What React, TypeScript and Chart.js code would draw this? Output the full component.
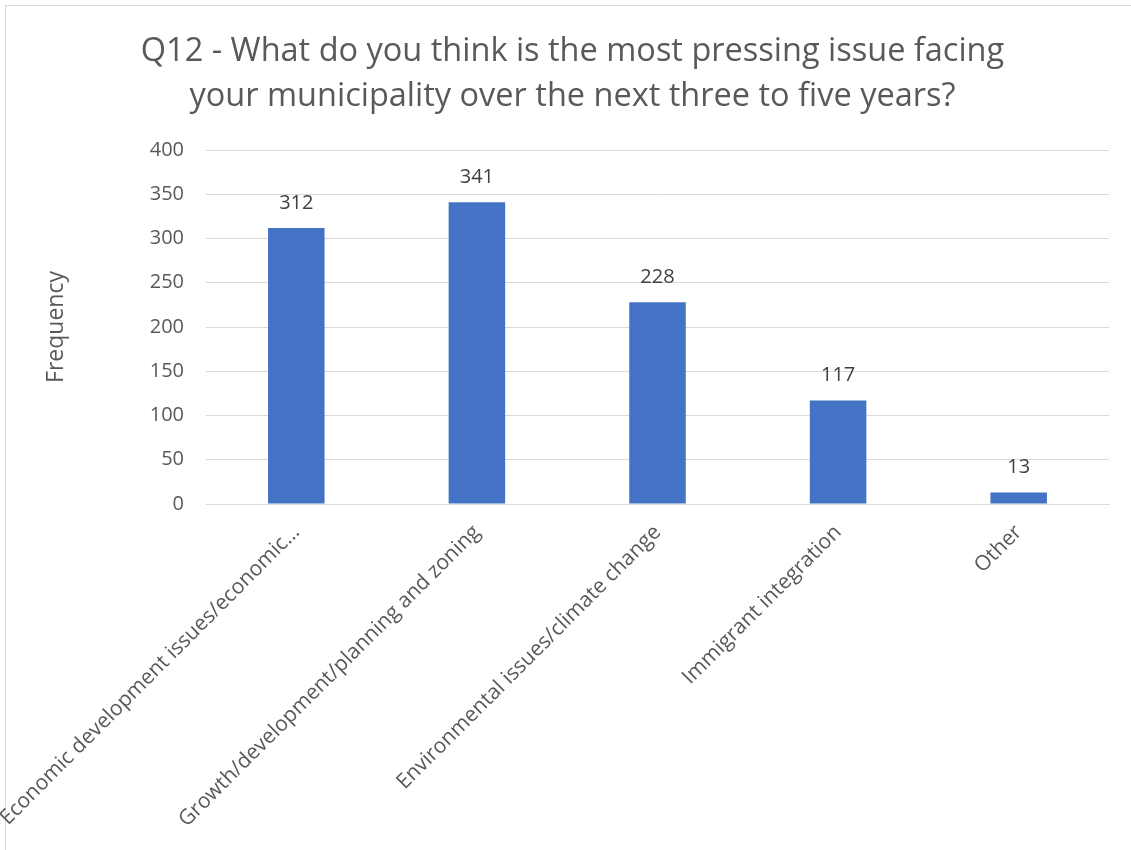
import React, { useEffect, useRef } from "react";
import { Chart, registerables } from "chart.js";

Chart.register(...registerables);

const titleLines = [
  "Q12 - What do you think is the most pressing issue facing",
  "your municipality over the next three to five years?",
];
const categories = [
  "Economic development issues/economic\u2026",
  "Growth/development/planning and zoning",
  "Environmental issues/climate change",
  "Immigrant integration",
  "Other",
];
const frequencies = [312, 341, 228, 117, 13];
const yAxisTitle = "Frequency";
const yMin = 0;
const yMax = 400;
const yStep = 50;

const FONT = "'Open Sans', sans-serif";

const valueLabels = {
  id: "valueLabels",
  afterDatasetsDraw(chart: any) {
    const ctx = chart.ctx;
    const meta = chart.getDatasetMeta(0);
    ctx.save();
    ctx.font = `20px ${FONT}`;
    ctx.fillStyle = "#404040";
    ctx.textAlign = "center";
    ctx.textBaseline = "middle";
    meta.data.forEach((bar: any, i: number) => {
      ctx.fillText(String(chart.data.datasets[0].data[i]), bar.x, bar.y - 25);
    });
    ctx.restore();
  },
};

export default function App() {
  const ref = useRef<HTMLCanvasElement>(null);
  useEffect(() => {
    if (!ref.current) return;
    const chart = new Chart(ref.current, {
      type: "bar",
      data: {
        labels: categories,
        datasets: [
          {
            label: "Frequency",
            data: frequencies,
            backgroundColor: "#4472C4",
            borderWidth: 0,
            barPercentage: 0.313,
            categoryPercentage: 1,
          },
        ],
      },
      options: {
        responsive: false,
        animation: false,
        layout: { padding: { left: 36, right: 22, top: 0, bottom: 0 } },
        plugins: {
          legend: { display: false },
          tooltip: { enabled: false },
          title: {
            display: true,
            text: titleLines,
            color: "#595959",
            font: { family: FONT, size: 32.5, weight: "normal", lineHeight: 45 / 32.5 },
            padding: { top: 29.5, bottom: 30.5 },
          },
        },
        scales: {
          x: {
            grid: { display: false, drawTicks: false },
            border: { display: true, color: "#d9d9d9", width: 1 },
            ticks: {
              autoSkip: false,
              maxRotation: 45,
              minRotation: 45,
              padding: 16,
              color: "#595959",
              font: { family: FONT, size: 21 },
            },
            afterFit(scale: any) {
              scale.height = 346;
              scale.paddingLeft = 0;
              scale.paddingRight = 0;
            },
          },
          y: {
            min: yMin,
            max: yMax,
            grid: { color: "#d9d9d9", lineWidth: 1, drawTicks: false },
            border: { display: false },
            ticks: {
              stepSize: yStep,
              padding: 22,
              color: "#595959",
              font: { family: FONT, size: 20 },
            },
            title: {
              display: true,
              text: yAxisTitle,
              color: "#595959",
              font: { family: FONT, size: 23 },
              padding: { top: 7, bottom: 0 },
            },
            afterFit(scale: any) {
              scale.width = 170;
              scale.paddingTop = 0;
              scale.paddingBottom = 0;
            },
          },
        },
      },
      plugins: [valueLabels],
    });
    return () => chart.destroy();
  }, []);

  return (
    <div
      style={{
        position: "fixed",
        left: 0,
        top: 0,
        width: 1131,
        height: 850,
        background: "#ffffff",
        overflow: "hidden",
      }}
    >
      <div
        style={{
          position: "absolute",
          left: 5,
          top: 5,
          right: 0,
          bottom: 0,
          borderLeft: "1px solid #d9d9d9",
          borderTop: "1px solid #d9d9d9",
        }}
      />
      <canvas
        ref={ref}
        width={1131}
        height={850}
        style={{ position: "absolute", left: 0, top: 0 }}
      />
    </div>
  );
}
